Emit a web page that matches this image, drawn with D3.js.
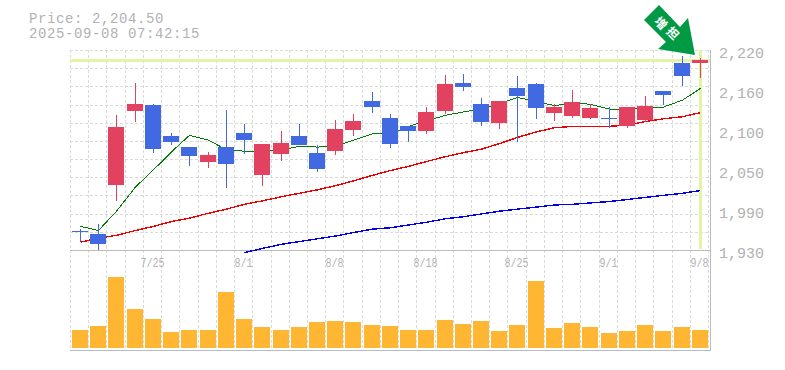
<!DOCTYPE html>
<html><head><meta charset="utf-8"><script src="https://cdn.jsdelivr.net/npm/d3@7"></script>
<style>html,body{margin:0;padding:0;background:#fff}svg{display:block}</style></head><body><svg id="c" width="785" height="370"></svg>
<script>
const dates=["7/18","7/22","7/23","7/24","7/25","7/28","7/29","7/30","7/31","8/1","8/4","8/5","8/6","8/7","8/8","8/12","8/13","8/14","8/15","8/18","8/19","8/20","8/21","8/22","8/25","8/26","8/27","8/28","8/29","9/1","9/2","9/3","9/4","9/5","9/8"];
const openP=[1958,1954,2025,2132,2141,2096,2080,2058,2080,2100,2040,2070,2096,2071,2074,2105,2147,2122,2111,2103,2132,2173,2142,2115,2166,2171,2129,2125,2122,2122,2111,2119,2161,2202,2202];
const closeP=[1958,1939,2109,2142,2077,2087,2067,2068,2055,2090,2084,2086,2083,2048,2106,2118,2138,2084,2103,2131,2171,2167,2116,2147,2154,2137,2138,2145,2137,2122,2138,2140,2155,2183,2206];
const highP=[1961,1968,2126,2173,2142,2100,2080,2073,2134,2113,2084,2103,2113,2083,2119,2128,2160,2128,2111,2138,2184,2186,2151,2147,2183,2173,2142,2163,2142,2138,2138,2154,2161,2212,2209];
const lowP=[1944,1931,2002,2116,2071,2083,2052,2050,2021,2070,2024,2060,2083,2044,2068,2096,2129,2079,2087,2099,2128,2161,2110,2106,2087,2121,2118,2122,2121,2108,2108,2116,2141,2168,2180];
const maShort=[1965,1959,1987,2022,2047,2073,2097,2090,2076,2074,2074,2076,2081,2080,2081,2090,2099,2099,2110,2118,2126,2131,2135,2143,2152,2146,2140,2144,2142,2135,2135,2138,2138,2148,2165];
const maMid=[1942,1948,1952,1959,1965,1972,1977,1984,1990,1997,2002,2008,2013,2018,2024,2031,2039,2046,2052,2059,2066,2072,2077,2085,2094,2102,2108,2110,2110,2110,2112,2117,2121,2124,2130];
const maLong=[null,null,null,null,null,null,null,null,null,1927,1933,1939,1943,1947,1951,1956,1961,1963,1967,1971,1976,1979,1983,1987,1990,1993,1996,1997,1999,2001,2004,2007,2010,2013,2017];
const volume=[18,22,71,39,29,16,18,18,56,29,21,18,21,26,27,26,23,22,18,18,28,24,27,17,23,67,20,25,21,15,17,23,17,21,18];
const priceTicks=[2220,2160,2100,2050,1990,1930];
const dateTickLabels=["7/25","8/1","8/8","8/18","8/25","9/1","9/8"];
const lastPrice=2204.5;
const stampTime="2025-09-08 07:42:15";
const markerText="増担";

const svg=d3.select("#c");
const idx=d3.range(dates.length);
const x=d3.scaleBand().domain(idx).range([70.5,708.5]);
const y=d3.scaleLinear().domain([1930,2220]).range([250.5,50.5]);
const yTick=d3.scalePoint().domain(priceTicks).range([50.5,250.5]);
const yv=d3.scaleLinear().domain([0,100]).range([348,248]);
const left=i=>Math.round(x(i)+1.5), cx=i=>left(i)+8.5;
const up="#e2425f",down="#4169e1",axisC="#bbb",gridC="#dadada";
const mono="'Liberation Mono',monospace";

// grid
const grid=svg.append("g").attr("stroke",gridC).attr("stroke-dasharray","3,2").attr("shape-rendering","crispEdges");
d3.range(0,11).forEach(k=>{const yy=Math.floor(50.5+k*200/11)+.5;
  grid.append("line").attr("x1",70).attr("x2",710).attr("y1",yy).attr("y2",yy);});
idx.concat([35]).forEach(i=>{const xx=Math.floor(i<35?x(i):708.5)+.5;
  grid.append("line").attr("x1",xx).attr("x2",xx).attr("y1",50).attr("y2",350);});

// last price highlight
const hl="#e2f5a5";
svg.append("rect").attr("x",70).attr("width",640).attr("y",Math.round(y(lastPrice))-2).attr("height",3).attr("fill",hl);
svg.append("rect").attr("x",left(34)+7).attr("width",3).attr("y",50).attr("height",199).attr("fill",hl);

// frame
const fr=svg.append("g").attr("stroke",axisC).attr("shape-rendering","crispEdges");
[250.5,350.5].forEach(v=>fr.append("line").attr("x1",70).attr("x2",710).attr("y1",v).attr("y2",v));
fr.append("line").attr("x1",710.5).attr("x2",710.5).attr("y1",50).attr("y2",351);

// moving averages
const line=d3.line().defined(d=>d!=null).x((d,i)=>cx(i)).y(d=>y(d));
[[maLong,"#0000f0",1.4],[maMid,"#f00000",1.4],[maShort,"#007a00",1]].forEach(([s,c,w])=>
  svg.append("path").datum(s).attr("d",line).attr("fill","none").attr("stroke",c).attr("stroke-width",w).attr("shape-rendering","crispEdges"));

// candles
const g=svg.append("g").attr("shape-rendering","crispEdges");
idx.forEach(i=>{
  const c=closeP[i]>openP[i]?up:down;
  const top=Math.round(y(Math.max(openP[i],closeP[i]))),bot=Math.round(y(Math.min(openP[i],closeP[i])));
  const hi=Math.round(y(highP[i])),lo=Math.round(y(lowP[i]));
  g.append("rect").attr("x",left(i)+8).attr("width",1).attr("y",hi).attr("height",Math.max(lo-hi,1)).attr("fill",c);
  g.append("rect").attr("x",left(i)).attr("width",16).attr("y",top).attr("height",Math.max(bot-top,1)).attr("fill",c);
  g.append("rect").attr("x",left(i)).attr("width",16).attr("y",yv(volume[i])).attr("height",yv(0)-yv(volume[i])).attr("fill","#ffb733");
});

// texts
const gray="#b2b2b2";
const big=(t,a,b,fs,ls)=>svg.append("text").attr("x",a).attr("y",b).text(t).attr("font-family",mono).attr("font-size",fs).attr("letter-spacing",ls).attr("fill",gray);
big("Price: "+d3.format(",.2f")(lastPrice),29,23,14,0.6);
big(stampTime,29,38,14,0.6);
priceTicks.forEach(p=>big(d3.format(",")(p),719,yTick(p)+7,15,0));
dateTickLabels.forEach(t=>{const i=dates.indexOf(t);
  svg.append("text").attr("transform",`translate(${cx(i)-1},266.5) scale(.77,1)`).attr("text-anchor","middle").text(t).attr("font-family",mono).attr("font-size",13).attr("fill",gray);});

// marker arrow
const arrowPts=[[659,5],[644,20],[666,42],[658,49],[695,55],[688,18],[680,27]];
svg.append("polygon").attr("points",arrowPts.join(" ")).attr("fill","#009944");
[[markerText[0],661,23],[markerText[1],673,33]].forEach(([t,a,b])=>
  svg.append("text").attr("transform",`translate(${a},${b}) rotate(45)`).attr("text-anchor","middle").attr("dy","0.38em")
   .attr("font-family","'Noto Sans CJK JP'").attr("font-weight",700).attr("font-size",12).attr("fill","#fff").text(t));
</script></body></html>
